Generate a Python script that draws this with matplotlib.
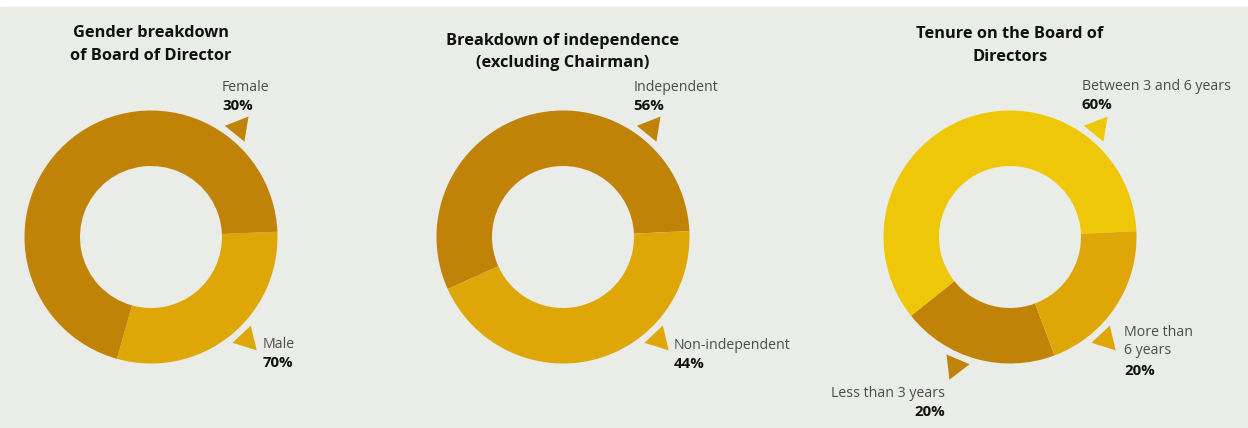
import numpy as np
import matplotlib.pyplot as plt
from matplotlib.patches import Polygon, Rectangle

W, H = 1248, 428
BG = '#e9ece7'
DARK = '#c08308'
MID = '#dea606'
YELLOW = '#eec708'

# chart data
gender_title = ['Gender breakdown', 'of Board of Director']
gender_labels = ['Female', 'Male']
gender_pct = [30, 70]
gender_colors = [MID, DARK]

indep_title = ['Breakdown of independence', '(excluding Chairman)']
indep_labels = ['Independent', 'Non-independent']
indep_pct = [56, 44]
indep_colors = [DARK, MID]

tenure_title = ['Tenure on the Board of', 'Directors']
tenure_labels = ['Between 3 and 6 years', 'Less than 3 years', 'More than\n6 years']
tenure_pct = [60, 20, 20]
tenure_colors = [YELLOW, DARK, MID]

R_OUT, R_IN = 126.5, 71

# layout for each donut: centre, start angle, title baselines, label spots
charts = [
    dict(title=gender_title, labels=gender_labels, pct=gender_pct, colors=gender_colors,
         cx=151, start=254.4, title_x=151, title_y=[391.3, 368],
         spots=[(222, 337, 'left', 51), (262.7, 80.3, 'left', -47)]),
    dict(title=indep_title, labels=indep_labels, pct=indep_pct, colors=indep_colors,
         cx=563, start=2.7, title_x=563, title_y=[383, 361.3],
         spots=[(633.3, 337.3, 'left', 51), (674, 79, 'left', -47)]),
    dict(title=tenure_title, labels=tenure_labels, pct=tenure_pct, colors=tenure_colors,
         cx=1010, start=2.6, title_x=1010, title_y=[389.7, 367],
         spots=[(1081.7, 338, 'left', 51), (945, 31.3, 'right', 247), (1124.3, 92, 'left', -47)]),
]
CY = 191
LINE = 19.0

fig = plt.figure(figsize=(W / 100, H / 100), dpi=100)
fig.patch.set_facecolor('white')
ax = fig.add_axes([0, 0, 1, 1])
ax.add_patch(Rectangle((0, 0), W, H - 7, color=BG, zorder=0))

font = 'Open Sans'


def wedge_color(ch, ang):
    a = (ang - ch['start']) % 360
    tot = sum(ch['pct'])
    acc = 0
    for v, c in zip(ch['pct'], ch['colors']):
        acc += v / tot * 360
        if a < acc:
            return c
    return ch['colors'][-1]


for ch in charts:
    ax.pie(ch['pct'], colors=ch['colors'], startangle=ch['start'], counterclock=True,
           radius=R_OUT, center=(ch['cx'], CY),
           wedgeprops=dict(width=R_OUT - R_IN, linewidth=0))
    for line, ty in zip(ch['title'], ch['title_y']):
        ax.text(ch['title_x'], ty, line, ha='center', va='baseline', fontsize=11.8,
                fontweight='bold', family=font, color='#111111')
    for lab, p, (tx, ty, ha, ang) in zip(ch['labels'], ch['pct'], ch['spots']):
        y = ty
        for part in lab.split('\n'):
            ax.text(tx, y, part, ha=ha, va='baseline', fontsize=10.2, family=font,
                    color='#4d4d4d')
            y -= 18.5
        ax.text(tx, y - (LINE - 18.5) - 1.5 * (lab.count('\n') > 0), f'{p}%', ha=ha,
                va='baseline', fontsize=10.8, fontweight='bold', family=font,
                color='#111111')
        # pointer triangle just outside the ring
        t = np.radians(ang)
        hw = np.radians(5.4)
        pts = [(ch['cx'] + 133.5 * np.cos(t - hw), CY + 133.5 * np.sin(t - hw)),
               (ch['cx'] + 155 * np.cos(t), CY + 155 * np.sin(t)),
               (ch['cx'] + 133.5 * np.cos(t + hw), CY + 133.5 * np.sin(t + hw))]
        ax.add_patch(Polygon(pts, closed=True, color=wedge_color(ch, ang), lw=0))

ax.set_xlim(0, W)
ax.set_ylim(0, H)
ax.set_aspect('auto')
ax.axis('off')
fig.savefig('out.png', dpi=100, facecolor='white')
